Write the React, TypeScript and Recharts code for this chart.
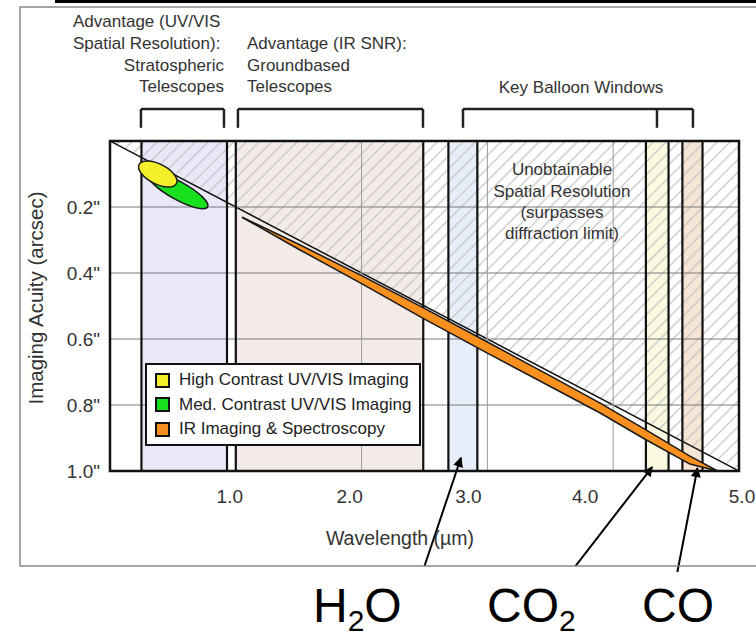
import React from 'react';
import { Area, ComposedChart, ReferenceArea, ReferenceLine, Scatter, XAxis, YAxis } from 'recharts';

const FONT = '"Liberation Sans", Arial, Helvetica, sans-serif';

const xTicks = [1, 2, 3, 4, 5];
const yTicks = [0.2, 0.4, 0.6, 0.8, 1.0];
const xGrid = [1, 2, 3, 4];
const yGrid = [0.2, 0.4, 0.6, 0.8];
// the source figure prints its x labels a little off the grid lines
const xTickNudge = [-6, -12, -19, -28, 3];

// vertical bands (wavelength, µm)
const bandStart = [0.25, 1.0, 2.69, 4.26, 4.55];
const bandEnd = [0.93, 2.49, 2.92, 4.44, 4.71];
const bandFill = ['#e8e8f8', '#f3ebe8', '#e7eef9', '#fafae1', '#f6e4d4'];

// diffraction limit
const limitWavelength = [0, 5];
const limitAcuity = [0, 1];

// IR imaging & spectroscopy wedge
const irWavelength = [1.05, 1.5, 2.0, 2.5, 3.0, 3.5, 3.9, 4.25, 4.61, 4.83];
const irTop = [0.231, 0.313, 0.408, 0.507, 0.609, 0.712, 0.795, 0.873, 0.955, 1.0];
const irBottom = [0.231, 0.328, 0.432, 0.54, 0.643, 0.744, 0.825, 0.903, 0.979, 1.0];

// UV/VIS blobs (centres)
const blobWavelength = [0.38, 0.54];
const blobAcuity = [0.1, 0.15];

const legendNames = ['High Contrast UV/VIS Imaging', 'Med. Contrast UV/VIS Imaging', 'IR Imaging & Spectroscopy'];
const legendColors = ['#f5ee2a', '#19e01e', '#f7901e'];

// brackets above the plot
const bracketSpans = [[0.246, 0.906], [1.017, 2.488], [2.806, 4.634]];
const bracketLegs = [0.246, 0.906, 1.017, 2.488, 2.806, 4.348, 4.634];
const bracketTop = -0.097;
const bracketFoot = -0.04;

// molecule arrows: tail -> tip
const arrowTail = [[2.5, 1.288], [3.7, 1.288], [4.51, 1.306]];
const arrowTip = [[2.79, 0.96], [4.31, 0.988], [4.67, 0.991]];

const limitRows = limitWavelength.map((w, i) => ({ w, limit: [0, limitAcuity[i]] }));
const irRows = irWavelength.map((w, i) => ({ w, ir: [irTop[i], irBottom[i]] }));

const blob = (rx: number, ry: number, angle: number, fill: string) => (p: any) => (
  <ellipse
    cx={p.cx}
    cy={p.cy}
    rx={rx}
    ry={ry}
    transform={`rotate(${angle} ${p.cx} ${p.cy})`}
    fill={fill}
    stroke="#1a1a1a"
    strokeWidth={1.5}
  />
);

const ArrowShape = (p: any) => (
  <line x1={p.x1} y1={p.y1} x2={p.x2} y2={p.y2} stroke="#000" strokeWidth={2} markerEnd="url(#arrowHead)" />
);

const XTick = (p: any) => (
  <text
    x={p.x + (xTickNudge[p.index] || 0)}
    y={p.y}
    dy="0.71em"
    textAnchor="middle"
    fill="#333"
    fontSize={19}
    fontFamily={FONT}
  >
    {Number(p.payload.value).toFixed(1)}
  </text>
);

const txt = { fill: '#333', fontSize: 17, fontFamily: FONT };

const App: React.FC = () => {
  return (
    <div style={{ position: 'absolute', left: 0, top: 0, width: 756, height: 636, background: '#fff', fontFamily: FONT }}>
      <svg width={0} height={0} style={{ position: 'absolute' }}>
        <defs>
          <pattern id="hatch" patternUnits="userSpaceOnUse" width="9" height="9" patternTransform="rotate(45)">
            <line x1="4.5" y1="0" x2="4.5" y2="9" stroke="#c6c6c6" strokeWidth="1.3" />
          </pattern>
          <marker id="arrowHead" viewBox="0 0 10 10" refX="9" refY="5" markerWidth="6" markerHeight="5" orient="auto">
            <path d="M0,0 L10,5 L0,10 z" fill="#000" />
          </marker>
        </defs>
      </svg>
      <ComposedChart width={756} height={636} data={irRows} margin={{ top: 141, right: 17, bottom: 113, left: 50 }}>
        <XAxis
          type="number"
          dataKey="w"
          domain={[0, 5]}
          ticks={xTicks}
          interval={0}
          allowDataOverflow
          tickLine={false}
          axisLine={false}
          tickMargin={13}
          height={52}
          tick={XTick}
        />
        <YAxis
          type="number"
          reversed
          domain={[0, 1]}
          ticks={yTicks}
          interval={0}
          allowDataOverflow
          tickFormatter={(v: number) => `${v.toFixed(1)}"`}
          tickLine={false}
          axisLine={false}
          tickMargin={4}
          width={60}
          tick={{ fill: '#333', fontSize: 19 }}
        />
        {bandStart.map((s, i) => (
          <ReferenceArea
            key={'band' + i}
            x1={s}
            x2={bandEnd[i]}
            y1={0}
            y2={1}
            fill={bandFill[i]}
            fillOpacity={1}
            stroke="none"
            zIndex={10}
          />
        ))}
        <Area
          data={limitRows}
          dataKey="limit"
          type="linear"
          fill="url(#hatch)"
          fillOpacity={1}
          stroke="#111"
          strokeWidth={1.5}
          dot={false}
          activeDot={false}
          isAnimationActive={false}
          zIndex={20}
        />
        {yGrid.map((y) => (
          <ReferenceLine key={'gy' + y} y={y} stroke="#7a7a7a" strokeWidth={1} zIndex={30} />
        ))}
        {xGrid.map((x) => (
          <ReferenceLine key={'gx' + x} x={x} stroke="#9a9a9a" strokeWidth={1} zIndex={30} />
        ))}
        {[...bandStart, ...bandEnd].map((x, i) => (
          <ReferenceLine key={'be' + i} x={x} stroke="#111" strokeWidth={2.2} zIndex={35} />
        ))}
        <Area
          dataKey="ir"
          type="linear"
          fill="#f7901e"
          fillOpacity={1}
          stroke="#1a1a1a"
          strokeWidth={1.5}
          dot={false}
          activeDot={false}
          isAnimationActive={false}
          zIndex={50}
        />
        <Scatter
          data={[{ w: blobWavelength[1], a: blobAcuity[1] }]}
          dataKey="a"
          shape={blob(34, 9, 29, legendColors[1])}
          isAnimationActive={false}
          zIndex={60}
        />
        <Scatter
          data={[{ w: blobWavelength[0], a: blobAcuity[0] }]}
          dataKey="a"
          shape={blob(21, 10, 27, legendColors[0])}
          isAnimationActive={false}
          zIndex={61}
        />
        {bracketSpans.map(([a, b], i) => (
          <ReferenceLine
            key={'bt' + i}
            segment={[{ x: a, y: bracketTop }, { x: b, y: bracketTop }]}
            ifOverflow="visible"
            stroke="#222"
            strokeWidth={2.5}
            zIndex={70}
          />
        ))}
        {bracketLegs.map((x, i) => (
          <ReferenceLine
            key={'bl' + i}
            segment={[{ x, y: bracketTop }, { x, y: bracketFoot }]}
            ifOverflow="visible"
            stroke="#222"
            strokeWidth={2.5}
            zIndex={70}
          />
        ))}
        {arrowTail.map((t, i) => (
          <ReferenceLine
            key={'ar' + i}
            segment={[{ x: t[0], y: t[1] }, { x: arrowTip[i][0], y: arrowTip[i][1] }]}
            ifOverflow="visible"
            stroke="#000"
            shape={ArrowShape}
            zIndex={80}
          />
        ))}
      </ComposedChart>

      <svg width={756} height={636} style={{ position: 'absolute', left: 0, top: 0, pointerEvents: 'none' }}>
        <rect x={55} y={0} width={701} height={3} fill="#000" />
        <rect x={20} y={7} width={760} height={559} fill="none" stroke="#888" strokeWidth={1.5} />
        {/* plot frame */}
        <rect x={110} y={141} width={629} height={330} fill="none" stroke="#111" strokeWidth={2.5} />
        <text x={73} y={27} {...txt}>Advantage (UV/VIS</text>
        <text x={73} y={49} {...txt}>Spatial Resolution):</text>
        <text x={224} y={71} textAnchor="end" {...txt}>Stratospheric</text>
        <text x={224} y={92} textAnchor="end" {...txt}>Telescopes</text>
        <text x={247} y={49} {...txt}>Advantage (IR SNR):</text>
        <text x={247} y={71} {...txt}>Groundbased</text>
        <text x={247} y={92} {...txt}>Telescopes</text>
        <text x={581} y={93} textAnchor="middle" {...txt}>Key Balloon Windows</text>
        <text x={562} y={175} textAnchor="middle" {...txt}>Unobtainable</text>
        <text x={562} y={197} textAnchor="middle" {...txt}>Spatial Resolution</text>
        <text x={562} y={218} textAnchor="middle" {...txt}>(surpasses</text>
        <text x={562} y={239} textAnchor="middle" {...txt}>diffraction limit)</text>
        <text x={400} y={545} textAnchor="middle" {...txt} fontSize={19.5}>Wavelength (µm)</text>
        <text transform="translate(43,298) rotate(-90)" textAnchor="middle" {...txt} fontSize={20.5}>
          Imaging Acuity (arcsec)
        </text>
        <text x={313} y={622} fill="#000" fontSize={48} fontFamily={FONT}>
          H<tspan fontSize={30} dy={9}>2</tspan><tspan dy={-9}>O</tspan>
        </text>
        <text x={487} y={622} fill="#000" fontSize={48} fontFamily={FONT}>
          CO<tspan fontSize={30} dy={9}>2</tspan>
        </text>
        <text x={642} y={622} fill="#000" fontSize={48} fontFamily={FONT}>CO</text>
      </svg>

      <div
        style={{
          position: 'absolute',
          left: 145,
          top: 363,
          width: 276,
          height: 83,
          boxSizing: 'border-box',
          border: '2px solid #111',
          background: '#fff',
          paddingTop: 3,
          paddingLeft: 8,
        }}
      >
        {legendNames.map((name, i) => (
          <div key={name} style={{ display: 'flex', alignItems: 'center', height: 24.5, color: '#222', fontSize: 17 }}>
            <span
              style={{
                display: 'inline-block',
                width: 11,
                height: 11,
                border: '2px solid #111',
                background: legendColors[i],
                marginRight: 9,
              }}
            />
            {name}
          </div>
        ))}
      </div>
    </div>
  );
};

export default App;
